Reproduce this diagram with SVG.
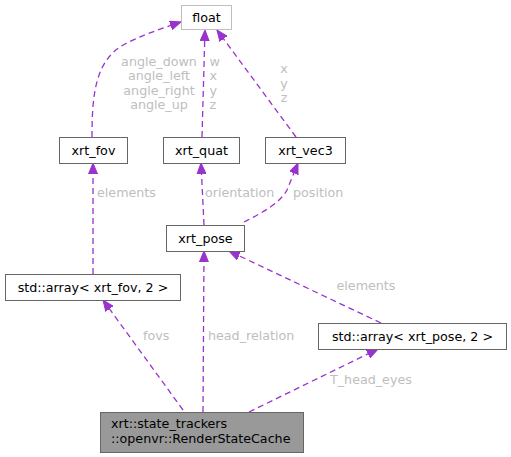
<svg xmlns="http://www.w3.org/2000/svg" width="511" height="457" viewBox="0 0 511 457">
<style>
text{font-family:"DejaVu Sans",sans-serif;font-size:12.7px}
.n rect{fill:#ffffff;stroke:#666666;stroke-width:1}
.n text{fill:#000000;text-anchor:middle}
.e path{fill:none;stroke:#9a32cd;stroke-width:1.3;stroke-dasharray:6,4;marker-end:url(#ah)}
.l{fill:#bebebe}
</style>
<defs>
<marker id="ah" markerUnits="userSpaceOnUse" markerWidth="12" markerHeight="10" refX="11" refY="5" orient="auto">
<path d="M0,0.5 L11,5 L0,9.5 Z" fill="#9a32cd" stroke="#9a32cd" stroke-width="1"/>
</marker>
</defs>
<rect width="511" height="457" fill="#ffffff"/>
<g id="edges" class="e">
<path d="M92,137 C92,95 95,60 125,44 C140,36 160,29 181,22"/>
<path d="M202,137 L205,30"/>
<path d="M296,137 L217,30"/>
<path d="M93,274 L93,163"/>
<path d="M204,225 L201,163"/>
<path d="M244,222 C262,213 280,203 287,190 L298,163"/>
<path d="M381,323 L229,251"/>
<path d="M183,410 L103,300"/>
<path d="M203,412 L204,251"/>
<path d="M249,412 L378,349"/>
</g>
<g id="edge-labels" class="l">
<text x="159" y="65.5" text-anchor="middle">angle_down</text>
<text x="159" y="80" text-anchor="middle">angle_left</text>
<text x="159" y="94.5" text-anchor="middle">angle_right</text>
<text x="159" y="109" text-anchor="middle">angle_up</text>
<text x="209.5" y="65.5">w</text>
<text x="209.5" y="80">x</text>
<text x="209.5" y="94.5">y</text>
<text x="209.5" y="109">z</text>
<text x="284" y="73" text-anchor="middle">x</text>
<text x="284" y="87.5" text-anchor="middle">y</text>
<text x="284" y="102" text-anchor="middle">z</text>
<text x="97" y="197">elements</text>
<text x="205" y="197">orientation</text>
<text x="293" y="197">position</text>
<text x="336.5" y="290">elements</text>
<text x="143" y="340">fovs</text>
<text x="208" y="340">head_relation</text>
<text x="330" y="384">T_head_eyes</text>
</g>
<g id="float" class="n"><rect x="181.5" y="5.5" width="50" height="24" style="stroke:#bfbfbf"/><text x="206.5" y="21.5">float</text></g>
<g id="xrt_fov" class="n"><rect x="59.5" y="137.5" width="68" height="26"/><text x="93.5" y="154.5">xrt_fov</text></g>
<g id="xrt_quat" class="n"><rect x="163.5" y="137.5" width="76" height="26"/><text x="201.5" y="154.5">xrt_quat</text></g>
<g id="xrt_vec3" class="n"><rect x="265.5" y="137.5" width="80" height="26"/><text x="305.5" y="154.5">xrt_vec3</text></g>
<g id="xrt_pose" class="n"><rect x="166.5" y="225.5" width="78" height="26"/><text x="205.5" y="242.5">xrt_pose</text></g>
<g id="array_fov" class="n"><rect x="5.5" y="274.5" width="175" height="26"/><text x="93" y="291.5">std::array&lt; xrt_fov, 2 &gt;</text></g>
<g id="array_pose" class="n"><rect x="318.5" y="323.5" width="188" height="26"/><text x="412.5" y="340.5">std::array&lt; xrt_pose, 2 &gt;</text></g>
<g id="RenderStateCache" class="n"><rect x="100.5" y="412.5" width="203" height="40" style="fill:#999999"/><text x="111" y="428" style="text-anchor:start">xrt::state_trackers</text><text x="111" y="443" style="text-anchor:start">::openvr::RenderStateCache</text></g>
</svg>
